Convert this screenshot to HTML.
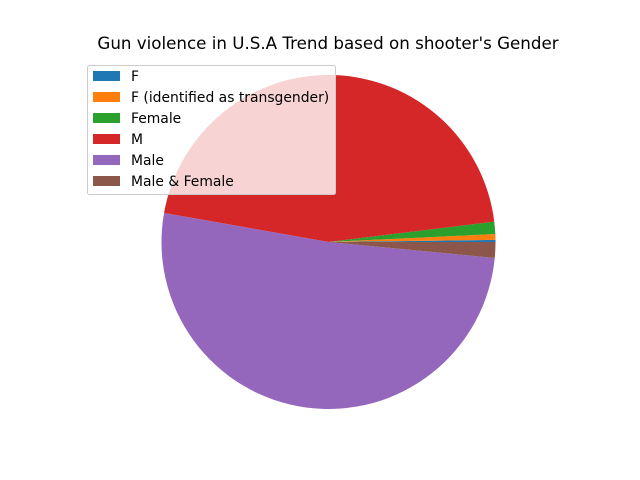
<!DOCTYPE html>
<html><head><meta charset="utf-8"><style>
body{margin:0;background:#fff}
svg{display:block;font-family:"DejaVu Sans","Liberation Sans",sans-serif}
</style></head><body>
<svg id="chart" width="640" height="480" viewBox="0 0 640 480">
<rect width="640" height="480" fill="#fff"/>
<text x="328" y="49" text-anchor="middle" font-size="16.7" fill="#000">Gun violence in U.S.A Trend based on shooter's Gender</text>
<g id="slices"></g>
<g id="legend"></g>
</svg>
<script>
const categories = ["F", "F (identified as transgender)", "Female", "M", "Male", "Male & Female"];
const counts = [3, 8, 17, 652, 738, 22];
const colors = ["#1f77b4", "#ff7f0e", "#2ca02c", "#d62728", "#9467bd", "#8c564b"];

const NS = "http://www.w3.org/2000/svg";
const cx = 328.5, cy = 242, r = 167;
const total = counts.reduce((a, b) => a + b, 0);
const g = document.getElementById("slices");
let a0 = 0;
counts.forEach((v, i) => {
  const a1 = a0 + v / total * 2 * Math.PI;
  const x0 = cx + r * Math.cos(a0), y0 = cy - r * Math.sin(a0);
  const x1 = cx + r * Math.cos(a1), y1 = cy - r * Math.sin(a1);
  const large = (a1 - a0) > Math.PI ? 1 : 0;
  const p = document.createElementNS(NS, "path");
  p.setAttribute("d", `M${cx},${cy} L${x0},${y0} A${r},${r} 0 ${large} 0 ${x1},${y1} Z`);
  p.setAttribute("fill", colors[i]);
  
  
  g.appendChild(p);
  a0 = a1;
});

const lg = document.getElementById("legend");
const box = document.createElementNS(NS, "rect");
box.setAttribute("x", 87.5); box.setAttribute("y", 65.5);
box.setAttribute("width", 248); box.setAttribute("height", 129);
box.setAttribute("rx", 2);
box.setAttribute("fill", "rgba(255,255,255,0.8)");
box.setAttribute("stroke", "#cccccc");


lg.appendChild(box);
categories.forEach((c, i) => {
  const y = 76 + i * 21;
  const sw = document.createElementNS(NS, "rect");
  sw.setAttribute("x", 93); sw.setAttribute("y", y - 5);
  sw.setAttribute("width", 27); sw.setAttribute("height", 10);
  sw.setAttribute("fill", colors[i]);
  
  
  lg.appendChild(sw);
  const t = document.createElementNS(NS, "text");
  t.setAttribute("x", 131); t.setAttribute("y", y + 5);
  t.setAttribute("font-size", "13.9");
  t.textContent = c;
  
  
  lg.appendChild(t);
});
</script>
</body></html>
